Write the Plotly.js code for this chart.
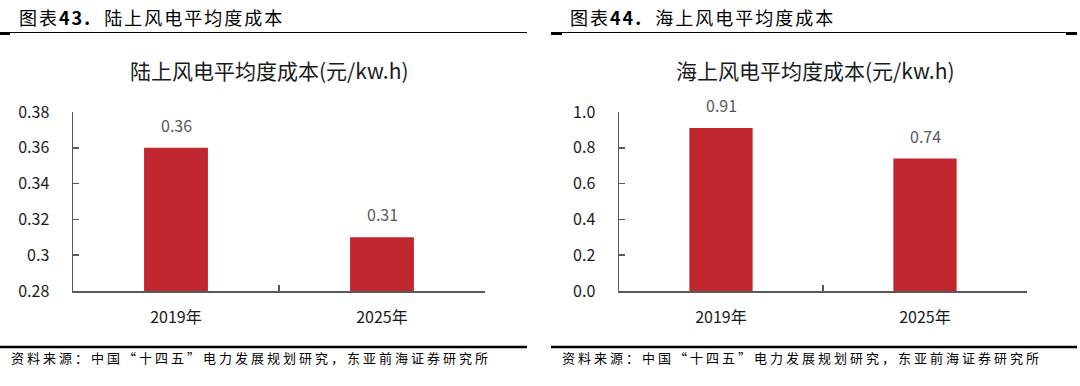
<!DOCTYPE html>
<html>
<head>
<meta charset="utf-8">
<script src="https://cdn.plot.ly/plotly-3.0.1.min.js"></script>
<style>
html,body{margin:0;padding:0;background:#fff;}
#chart{width:1080px;height:386px;}
g.annotation[data-index="0"] text, g.annotation[data-index="1"] text{letter-spacing:2px;}
g.annotation[data-index="2"] text, g.annotation[data-index="3"] text{letter-spacing:3px;}
</style>
</head>
<body>
<div id="chart"></div>
<script>
// Data
const categories = ["2019年", "2025年"];
const onshoreCost = [0.36, 0.31];
const offshoreCost = [0.91, 0.74];
const onshoreTicks = [0.28, 0.30, 0.32, 0.34, 0.36, 0.38];
const offshoreTicks = [0.0, 0.2, 0.4, 0.6, 0.8, 1.0];
const headerLeft = "图表<b>43.</b>  陆上风电平均度成本";
const headerRight = "图表<b>44.</b>  海上风电平均度成本";
const titleLeft = "陆上风电平均度成本(元/kw.h)";
const titleRight = "海上风电平均度成本(元/kw.h)";
const sourceText = "资料来源：中国“十四五”电力发展规划研究，东亚前海证券研究所";

const FONT = '"Noto Sans CJK SC", "Noto Sans", sans-serif';
const BAR = '#C0262E';
const AX = '#595959';

const traces = [
  {type:'bar', x:categories, y:onshoreCost, xaxis:'x', yaxis:'y', width:0.31,
   marker:{color:BAR}, hoverinfo:'none'},
  {type:'bar', x:categories, y:offshoreCost, xaxis:'x2', yaxis:'y2', width:0.31,
   marker:{color:BAR}, hoverinfo:'none'}
];

function xAxis(domain, anchor){
  return {domain:domain, anchor:anchor, type:'category', showline:true, linecolor:AX, linewidth:1.5,
    ticks:'inside', ticklen:6, tickwidth:1.5, tickcolor:AX, tickson:'boundaries',
    showgrid:false, zeroline:false, ticklabelstandoff:11,
    tickfont:{family:FONT, size:16, color:'#1a1a1a'}, fixedrange:true};
}
function yAxis(domain, anchor, range, ticks, fmt){
  return {domain:domain, anchor:anchor, range:range, tickvals:ticks, tickformat:fmt,
    showline:true, linecolor:AX, linewidth:1.5, ticks:'inside', ticklen:6, tickwidth:1.5, tickcolor:AX,
    showgrid:false, zeroline:false, ticklabelstandoff:19,
    tickfont:{family:FONT, size:16, color:'#1a1a1a'}, fixedrange:true};
}

const yd = [(386-291)/386, (386-112)/386];
const layout = {
  width:1080, height:386, margin:{l:0,r:0,t:0,b:0},
  paper_bgcolor:'#fff', plot_bgcolor:'#fff', showlegend:false,
  font:{family:FONT},
  xaxis: xAxis([73/1080, 485/1080], 'y'),
  yaxis: yAxis(yd, 'x', [0.28, 0.38], onshoreTicks, ''),
  xaxis2: xAxis([619/1080, 1027/1080], 'y2'),
  yaxis2: yAxis(yd, 'x2', [0, 1.0], offshoreTicks, '.1f'),
  annotations: [
    {xref:'paper', yref:'paper', x:151/1080, y:(386-17)/386, xanchor:'center', yanchor:'middle',
     text:headerLeft, showarrow:false, font:{family:FONT, size:18, color:'#000'}},
    {xref:'paper', yref:'paper', x:702/1080, y:(386-17)/386, xanchor:'center', yanchor:'middle',
     text:headerRight, showarrow:false, font:{family:FONT, size:18, color:'#000'}},
    {xref:'paper', yref:'paper', x:251/1080, y:(386-357)/386, xanchor:'center', yanchor:'middle',
     text:sourceText, showarrow:false, font:{family:FONT, size:13, color:'#000'}},
    {xref:'paper', yref:'paper', x:802/1080, y:(386-357)/386, xanchor:'center', yanchor:'middle',
     text:sourceText, showarrow:false, font:{family:FONT, size:13, color:'#000'}},
    {xref:'paper', yref:'paper', x:269/1080, y:(386-70)/386, xanchor:'center', yanchor:'middle',
     text:titleLeft, showarrow:false, font:{family:FONT, size:21, color:'#1a1a1a'}},
    {xref:'paper', yref:'paper', x:815/1080, y:(386-70)/386, xanchor:'center', yanchor:'middle',
     text:titleRight, showarrow:false, font:{family:FONT, size:21, color:'#1a1a1a'}}
  ],
  shapes: []
};

// data labels built from arrays
categories.forEach((c,i)=>{
  layout.annotations.push({xref:'x', yref:'y', x:c, y:onshoreCost[i], yanchor:'bottom', yshift:9,
    text:onshoreCost[i].toFixed(2), showarrow:false, font:{family:FONT, size:16, color:'#595959'}});
  layout.annotations.push({xref:'x2', yref:'y2', x:c, y:offshoreCost[i], yanchor:'bottom', yshift:9,
    text:offshoreCost[i].toFixed(2), showarrow:false, font:{family:FONT, size:16, color:'#595959'}});
});

// header/footer rules
const py = v => (386 - v)/386;
const px = v => v/1080;
[[0,527],[551,1077]].forEach(([a,b])=>{
  layout.shapes.push({type:'line', xref:'paper', yref:'paper', x0:px(a), x1:px(b), y0:py(32.5), y1:py(32.5),
    line:{color:'#000', width:1}});
  layout.shapes.push({type:'line', xref:'paper', yref:'paper', x0:px(a), x1:px(b), y0:py(347), y1:py(347),
    line:{color:'#000', width:2.5}});
});
[[0,10],[551,562],[1066,1077]].forEach(([a,b])=>{
  layout.shapes.push({type:'rect', xref:'paper', yref:'paper', x0:px(a), x1:px(b), y0:py(35), y1:py(32),
    fillcolor:'#000', line:{width:0}});
});

Plotly.newPlot('chart', traces, layout, {displayModeBar:false, staticPlot:true});
</script>
</body>
</html>
